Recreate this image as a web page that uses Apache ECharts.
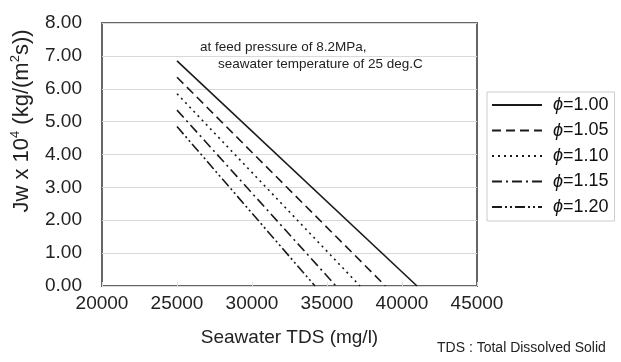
<!DOCTYPE html>
<html>
<head>
<meta charset="utf-8">
<script src="https://cdn.jsdelivr.net/npm/echarts@6/dist/echarts.min.js"></script>
<style>
  html, body { margin: 0; padding: 0; background: #fff; }
  #chart { width: 621px; height: 362px; }
</style>
</head>
<body>
<div id="chart"></div>
<script>
// Seawater TDS (mg/l) at start / end of each curve
var phiNames = ['1.00', '1.05', '1.10', '1.15', '1.20'];
var tdsStart = [25000, 25000, 25000, 25000, 25000];
var tdsEnd = [41000, 38900, 37200, 35600, 34200];
// Jw x 10^4 at start / end
var jwStart = [6.85, 6.35, 5.85, 5.35, 4.85];
var jwEnd = [0, 0, 0, 0, 0];
var dashes = ['solid', [9, 5], [2, 4], [10, 4, 2, 4], [10, 3, 2, 3, 2, 3]];

var font = 'Liberation Sans';
var chart = echarts.init(document.getElementById('chart'));

var series = phiNames.map(function (p, i) {
  return {
    name: p,
    type: 'line',
    symbol: 'none',
    data: [[tdsStart[i], jwStart[i]], [tdsEnd[i], jwEnd[i]]],
    lineStyle: { color: '#1a1a1a', width: 1.6, type: dashes[i] },
    itemStyle: { color: '#1a1a1a' }
  };
});

chart.setOption({
  animation: false,
  textStyle: { fontFamily: font },
  grid: {
    left: 102, right: 144, top: 23, bottom: 76,
    show: true, borderColor: '#666', borderWidth: 2
  },
  xAxis: {
    type: 'value', min: 20000, max: 45000, interval: 5000,
    name: 'Seawater TDS (mg/l)', nameLocation: 'middle', nameGap: 42,
    nameTextStyle: { fontSize: 19, color: '#222', fontFamily: font },
    axisLine: { show: false },
    axisTick: { show: true, inside: true, length: 4, lineStyle: { color: '#ddd' } },
    splitLine: { show: false },
    axisLabel: {
      fontSize: 19, color: '#222', margin: 8, fontFamily: font,
      formatter: function (v) { return String(v); }
    }
  },
  yAxis: {
    type: 'value', min: 0, max: 8, interval: 1,
    axisLine: { show: false },
    axisTick: { show: false },
    splitLine: { show: true, lineStyle: { color: '#d9d9d9', width: 1 } },
    axisLabel: {
      fontSize: 19, color: '#222', margin: 20, fontFamily: font,
      formatter: function (v) { return v.toFixed(2); }
    }
  },
  legend: {
    orient: 'vertical',
    left: 487, top: 92,
    padding: [4, 6, 5, 4],
    itemWidth: 50, itemHeight: 14, itemGap: 7.5,
    borderColor: '#ccc', borderWidth: 1,
    itemStyle: { opacity: 0 },
    data: phiNames,
    formatter: function (n) { return '{p|\u03d5}=' + n; },
    textStyle: {
      fontSize: 18, color: '#111', fontFamily: font, lineHeight: 18,
      padding: [0, 0, 0, 6],
      rich: {
        p: { fontSize: 18, fontStyle: 'italic', fontFamily: font, color: '#111' }
      }
    }
  },
  graphic: [
    { type: 'text', x: 22, y: 121, rotation: Math.PI / 2,
      style: {
        text: '{a|Jw x 10}{s|4}{a| (kg/(m}{s|2}{a|s))}',
        align: 'center', verticalAlign: 'middle',
        rich: {
          a: { fontSize: 22, fill: '#222', fontFamily: font, lineHeight: 26 },
          s: { fontSize: 13, fill: '#222', fontFamily: font, verticalAlign: 'top', lineHeight: 26 }
        }
      } },
    { type: 'text', left: 200, top: 40,
      style: { text: 'at feed pressure of 8.2MPa,', fontSize: 13.5, fill: '#222', fontFamily: font } },
    { type: 'text', left: 218, top: 57,
      style: { text: 'seawater temperature of 25 deg.C', fontSize: 13.5, fill: '#222', fontFamily: font } },
    { type: 'text', left: 437, top: 341,
      style: { text: 'TDS : Total Dissolved Solid', fontSize: 14, fill: '#222', fontFamily: font } }
  ],
  series: series
});
</script>
</body>
</html>
